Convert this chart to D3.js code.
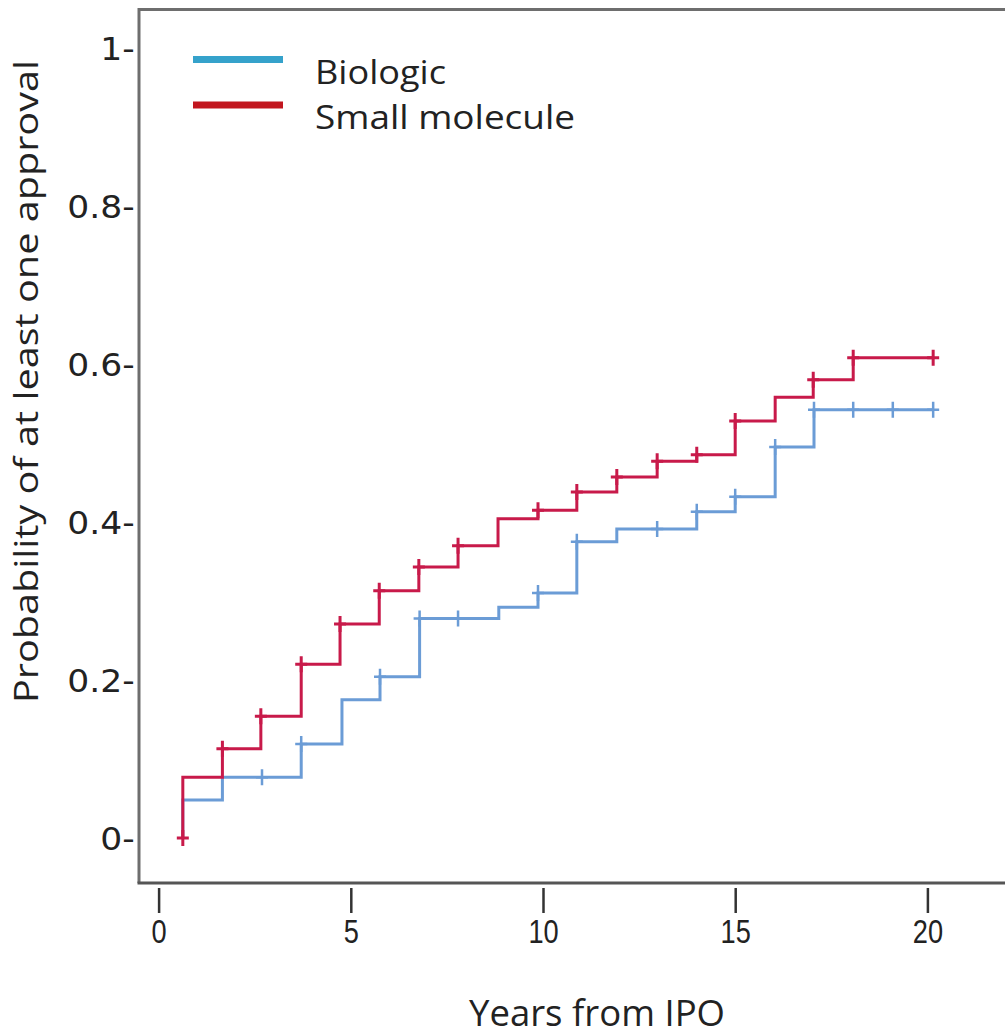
<!DOCTYPE html>
<html>
<head>
<meta charset="utf-8">
<script src="https://cdn.jsdelivr.net/npm/d3@7"></script>
<style>
  body { margin: 0; background: #fff; }
  text { fill: #222; }
</style>
</head>
<body>
<div id="chart"></div>
<script>
// Small molecule: step times (years) and cumulative probability after each step
const smallT = [0.63, 1.66, 2.66, 3.71, 4.72, 5.74, 6.77, 7.79, 8.83, 9.87, 10.88, 11.92, 12.97, 14.0, 15.0, 16.04, 17.03, 18.07];
const smallP = [0.077, 0.113, 0.154, 0.220, 0.271, 0.313, 0.343, 0.370, 0.404, 0.415, 0.438, 0.457, 0.477, 0.485, 0.528, 0.558, 0.580, 0.608];
const smallEnd = 20.15;
const smallCensorT = [0.63, 1.66, 2.66, 3.71, 4.72, 5.74, 6.77, 7.79, 9.87, 10.88, 11.92, 12.97, 14.0, 15.0, 17.03, 18.07, 20.15];
const smallCensorP = [0, 0.113, 0.154, 0.220, 0.271, 0.313, 0.343, 0.370, 0.415, 0.438, 0.457, 0.477, 0.485, 0.528, 0.580, 0.608, 0.608];

// Biologic
const bioT = [0.63, 1.66, 3.71, 4.77, 5.76, 6.79, 8.85, 9.87, 10.88, 11.92, 14.0, 15.0, 16.04, 17.05];
const bioP = [0.048, 0.077, 0.119, 0.175, 0.204, 0.278, 0.292, 0.310, 0.375, 0.391, 0.413, 0.432, 0.495, 0.542];
const bioEnd = 20.15;
const bioCensorT = [2.69, 3.71, 5.76, 6.79, 7.79, 9.87, 10.88, 12.97, 14.0, 15.0, 16.04, 17.05, 18.07, 19.1, 20.15];
const bioCensorP = [0.077, 0.119, 0.204, 0.278, 0.278, 0.310, 0.375, 0.391, 0.413, 0.432, 0.495, 0.542, 0.542, 0.542, 0.542];

const xTicks = [0, 5, 10, 15, 20];
const yTicks = [0, 0.2, 0.4, 0.6, 0.8, 1];
const seriesNames = ["Biologic", "Small molecule"];

const width = 1005, height = 1036;
const svg = d3.select("#chart").append("svg")
    .attr("width", width)
    .attr("height", height)
    .style("font-family", "'Open Sans', sans-serif");

svg.append("rect").attr("width", width).attr("height", height).attr("fill", "#fff");

let x = d3.scaleLinear().domain([0, 20]).range([158.6, 927.4]);
let y = d3.scaleLinear().domain([0, 1]).range([838, 48]);

// plot frame (right side is cut off in the original)
svg.append("path")
    .attr("d", "M139,883 L139,9.5 L1005,9.5")
    .attr("fill", "none")
    .attr("stroke", "#6e6e6e")
    .attr("stroke-width", 3);
svg.append("line")
    .attr("x1", 137.5).attr("x2", width)
    .attr("y1", 883).attr("y2", 883)
    .attr("stroke", "#555")
    .attr("stroke-width", 3);

// x axis
let gx = svg.append("g")
    .attr("transform", "translate(0,888)")
    .call(d3.axisBottom(x).tickValues(xTicks).tickSize(25).tickPadding(6).tickSizeOuter(0));
gx.select(".domain").remove();
gx.selectAll(".tick line").attr("stroke", "#333").attr("stroke-width", 2.5);
gx.selectAll(".tick text")
    .attr("font-family", "'Liberation Sans', Arial, sans-serif")
    .attr("font-size", 34)
    .attr("fill", "#222")
    .attr("transform", "scale(0.8,1)");

// y axis: labels carry a dash as tick mark
let gy = svg.append("g")
    .attr("transform", "translate(139,0)")
    .call(d3.axisLeft(y).tickValues(yTicks).tickSize(0).tickPadding(4)
        .tickFormat(d => (d === 0 || d === 1 ? String(d) : d.toFixed(1)) + "-"));
gy.select(".domain").remove();
gy.selectAll(".tick text")
    .attr("font-family", "'DejaVu Sans', Verdana, sans-serif")
    .attr("font-size", 32)
    .attr("fill", "#222")
    .attr("dy", "0.36em")
    .attr("transform", "scale(1.08,1)");

// axis titles
svg.append("text")
    .attr("transform", "translate(38,381.5) rotate(-90)")
    .attr("text-anchor", "middle")
    .attr("font-size", 32)
    .attr("textLength", 643)
    .attr("lengthAdjust", "spacingAndGlyphs")
    .text("Probability of at least one approval");

svg.append("text")
    .attr("x", 597)
    .attr("y", 1026)
    .attr("text-anchor", "middle")
    .attr("font-size", 36)
    .attr("textLength", 256)
    .attr("lengthAdjust", "spacingAndGlyphs")
    .text("Years from IPO");

// step curves
function stepPoints(ts, ps, end) {
    let pts = [[ts[0], 0]];
    ts.forEach((t, i) => pts.push([t, ps[i]]));
    pts.push([end, ps[ps.length - 1]]);
    return pts;
}
let line = d3.line()
    .x(d => x(d[0]))
    .y(d => y(d[1]))
    .curve(d3.curveStepAfter);

let series = [
    { name: seriesNames[0], color: "#6b9cd6", pts: stepPoints(bioT, bioP, bioEnd), ct: bioCensorT, cp: bioCensorP, cw: 2.5 },
    { name: seriesNames[1], color: "#c81a4a", pts: stepPoints(smallT, smallP, smallEnd), ct: smallCensorT, cp: smallCensorP, cw: 3 }
];

series.forEach(s => {
    svg.append("path")
        .datum(s.pts)
        .attr("fill", "none")
        .attr("stroke", s.color)
        .attr("stroke-width", 3)
        .attr("d", line);
    // censor marks drawn as small plus signs
    svg.append("g").selectAll("path")
        .data(s.ct.map((t, i) => [t, s.cp[i]]))
        .join("path")
        .attr("d", d => {
            let cx = x(d[0]), cy = y(d[1]);
            return `M${cx},${cy - 8}V${cy + 8}M${cx - 6},${cy}H${cx + 6}`;
        })
        .attr("fill", "none")
        .attr("stroke", s.color)
        .attr("stroke-width", s.cw);
});

// legend
let legendColors = ["#35a2cb", "#c2161f"];
let legend = svg.append("g");
seriesNames.forEach((name, i) => {
    let ly = 59.5 + i * 45.5;
    legend.append("line")
        .attr("x1", 193).attr("x2", 283)
        .attr("y1", ly).attr("y2", ly)
        .attr("stroke", legendColors[i])
        .attr("stroke-width", 7);
    legend.append("text")
        .attr("x", 315)
        .attr("y", ly + 24)
        .attr("font-size", 33)
        .attr("textLength", i === 0 ? 131 : 260)
        .attr("lengthAdjust", "spacingAndGlyphs")
        .text(name);
});
</script>
</body>
</html>
